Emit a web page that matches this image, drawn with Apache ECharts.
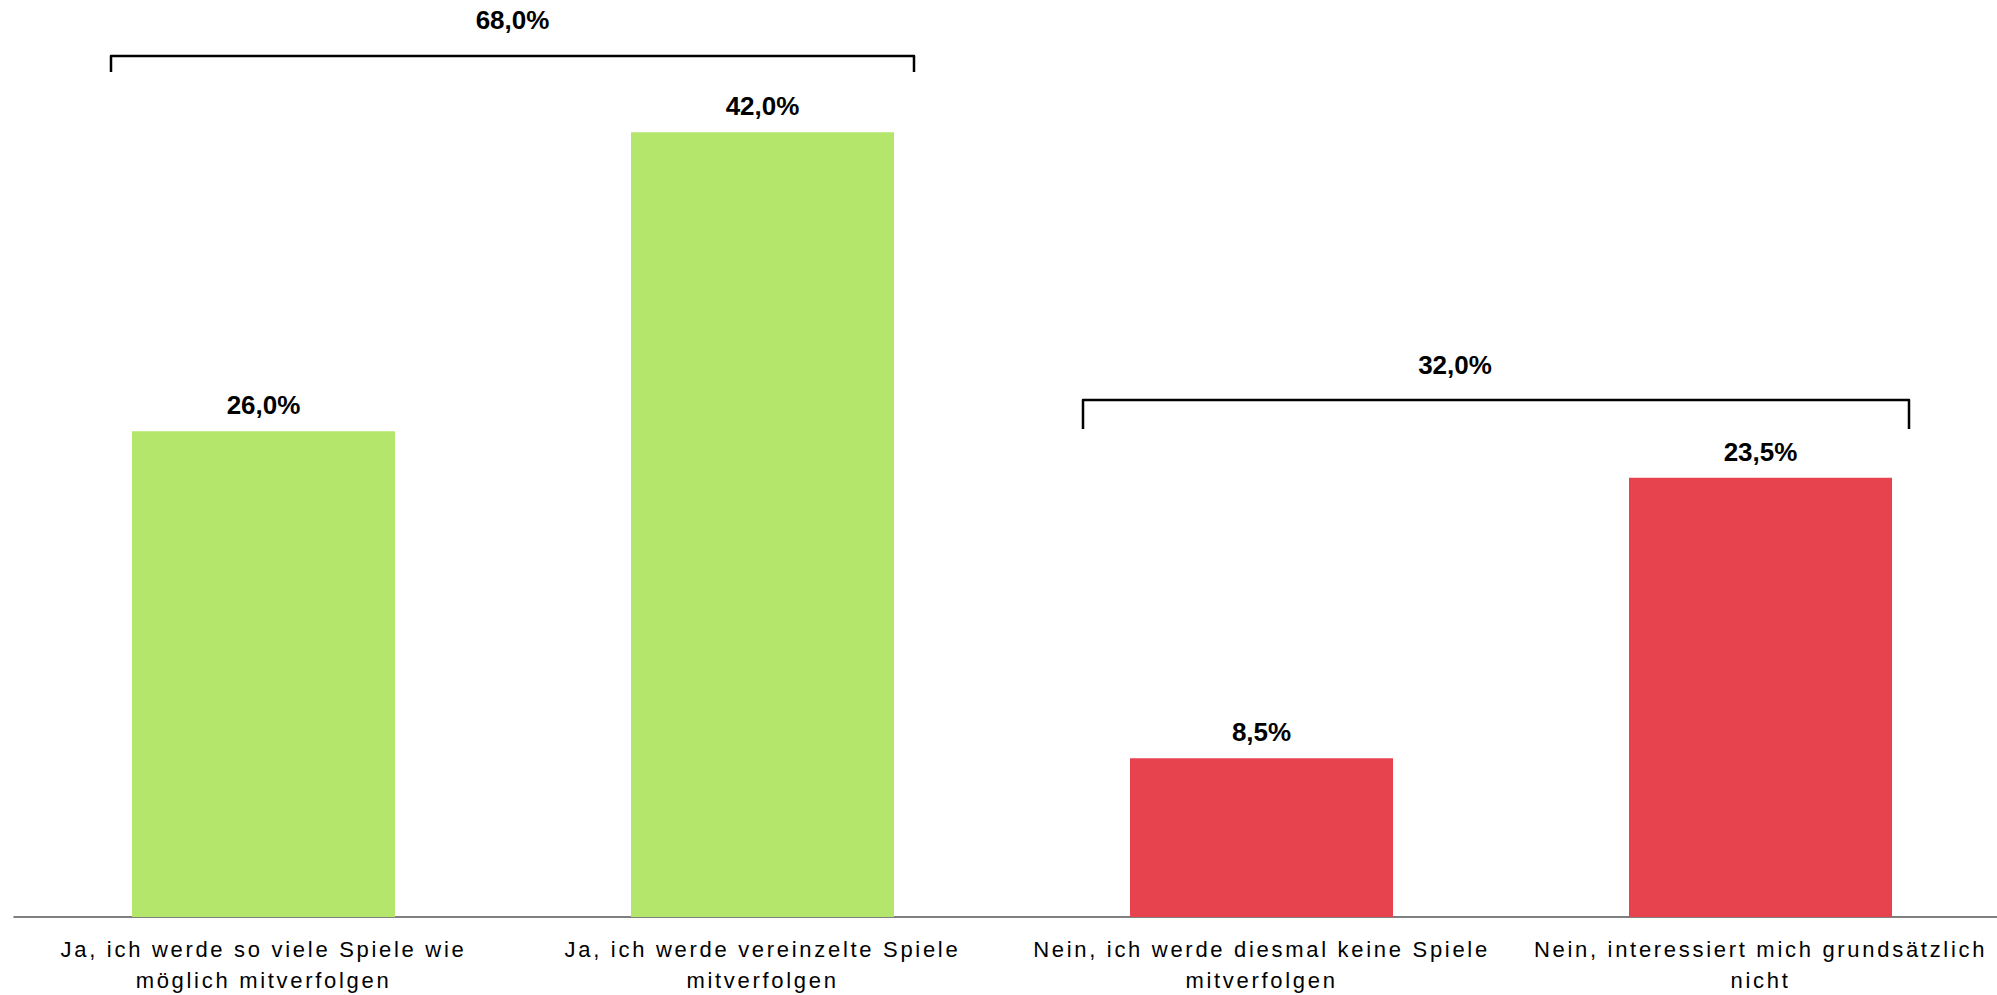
<!DOCTYPE html>
<html>
<head>
<meta charset="utf-8">
<script src="https://cdn.jsdelivr.net/npm/echarts@6/dist/echarts.min.js"></script>
<style>
  html, body { margin: 0; padding: 0; background: #fff; }
  #main { width: 1997px; height: 995px; }
  /* category labels in the source are tracked wider than plain Arial */
  #main text { letter-spacing: 2.7px; }
  #main text[style*="bold"] { letter-spacing: 0; }
</style>
</head>
<body>
<div id="main"></div>
<script>
const categories = [
  'Ja, ich werde so viele Spiele wie\nmöglich mitverfolgen',
  'Ja, ich werde vereinzelte Spiele\nmitverfolgen',
  'Nein, ich werde diesmal keine Spiele\nmitverfolgen',
  'Nein, interessiert mich grundsätzlich\nnicht'
]
const shares = [26.0, 42.0, 8.5, 23.5]

// summary brackets: first / last category and the printed total
const bracketFrom = [0, 2]
const bracketTo = [1, 3]
const bracketTotals = [68.0, 32.0]

const groupColors = ['#b3e66b', '#e6434f']
const barWidth = 263
const FONT = '"Liberation Sans", Arial, sans-serif'
// level in axis units, extra overhang left/right, leg length, label offsets
const bracketLayout = [
  { level: 46.07, padLeft: 21, padRight: 20, drop: 16, labelGap: 36, labelDx: 0 },
  { level: 27.67, padLeft: 47, padRight: 17, drop: 29, labelGap: 35, labelDx: -41 }
]

function pct(v) {
  return v.toFixed(1).replace('.', ',') + '%'
}

function groupOf(idx) {
  for (let g = 0; g < bracketFrom.length; g++) {
    if (idx >= bracketFrom[g] && idx <= bracketTo[g]) return g
  }
  return 0
}

const barData = shares.map((v, i) => ({
  value: v,
  itemStyle: { color: groupColors[groupOf(i)] }
}))
const bracketData = bracketFrom.map((f, i) => [f, bracketTo[i], bracketTotals[i]])

const chart = echarts.init(document.getElementById('main'), null, { renderer: 'svg' })
chart.setOption({
  animation: false,
  backgroundColor: '#fff',
  // plot runs a little past the right edge, like the source
  grid: { left: 14, right: -13, top: 20, bottom: 78, outerBoundsMode: 'none' },
  xAxis: {
    type: 'category',
    data: categories,
    axisLine: { show: true, lineStyle: { color: '#555', width: 1.5 } },
    axisTick: { show: false },
    axisLabel: {
      interval: 0,
      margin: 17,
      color: '#000',
      fontSize: 22,
      lineHeight: 31,
      fontFamily: FONT,
      fontWeight: 'normal'
    }
  },
  yAxis: {
    type: 'value',
    min: 0,
    max: 48,
    show: false,
    splitLine: { show: false }
  },
  series: [
    {
      type: 'bar',
      data: barData,
      barWidth: barWidth,
      label: {
        show: true,
        position: 'top',
        distance: 13,
        color: '#000',
        fontSize: 26,
        fontWeight: 'bold',
        fontFamily: FONT,
        formatter: p => pct(p.value)
      }
    },
    {
      type: 'custom',
      data: bracketData,
      clip: false,
      silent: true,
      renderItem: function(params, api) {
        const lay = bracketLayout[params.dataIndex]
        const half = barWidth / 2
        const x1 = api.coord([api.value(0), 0])[0] - half - lay.padLeft
        const x2 = api.coord([api.value(1), 0])[0] + half + lay.padRight
        const y = api.coord([0, lay.level])[1]
        const y2 = y + lay.drop
        return {
          type: 'group',
          children: [
            {
              type: 'polyline',
              shape: { points: [[x1, y2], [x1, y], [x2, y], [x2, y2]] },
              style: { stroke: '#000', lineWidth: 2.5, fill: null, lineJoin: 'round' }
            },
            {
              type: 'text',
              x: (x1 + x2) / 2 + lay.labelDx,
              y: y - lay.labelGap,
              style: {
                text: pct(api.value(2)),
                font: 'bold 26px ' + FONT,
                fill: '#000',
                align: 'center',
                verticalAlign: 'middle'
              }
            }
          ]
        }
      }
    }
  ]
})
</script>
</body>
</html>
